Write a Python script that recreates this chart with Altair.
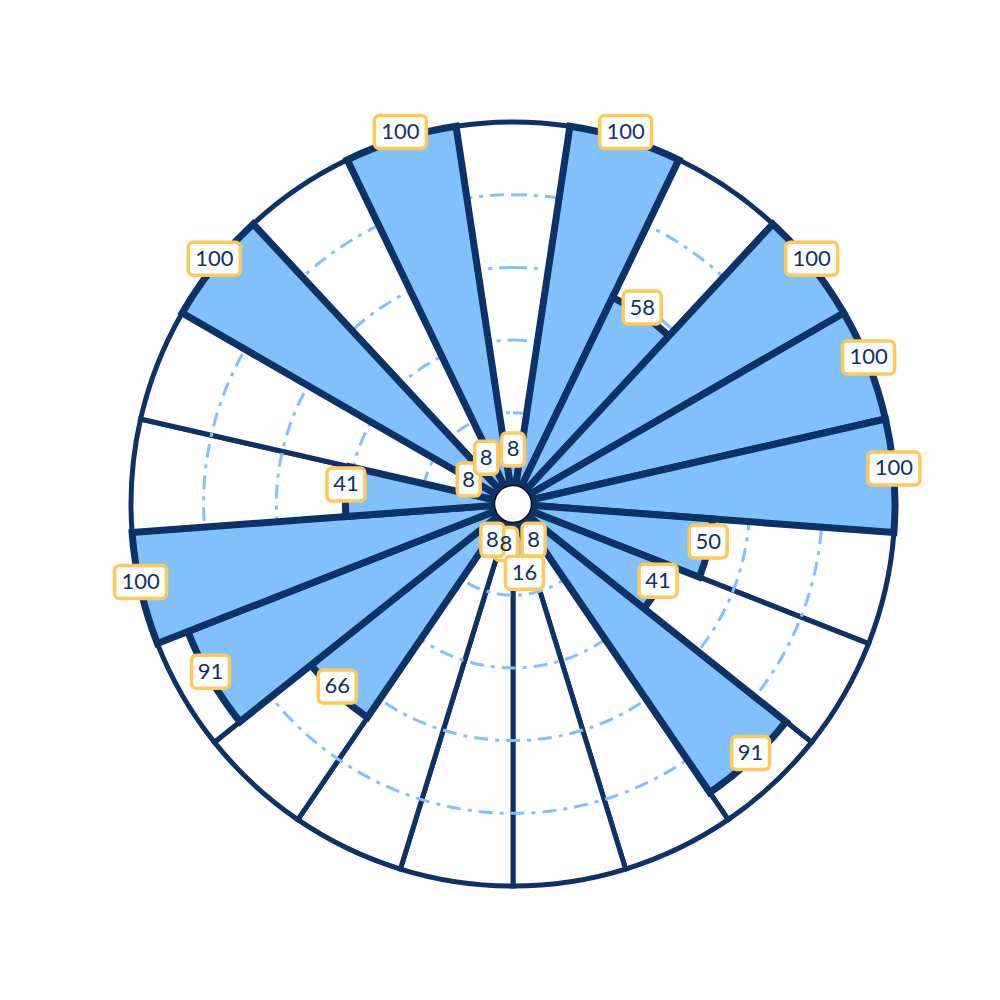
import math
import altair as alt
import pandas as pd

# ---- data (21 sectors, clockwise from the top) ----
values = [8, 100, 58, 100, 100, 100, 50, 41, 91, 8, 16, 8, 8, 66, 91, 100, 41, 8, 100, 8, 100]
sector = list(range(len(values)))
grid_levels = [20, 40, 60, 80]
hub_level = [0]

n = len(values)
NAVY = "#0D3268"
BLUE = "#80C1FC"
GRID = "#80C0FF"
GOLD = "#FFC857"

W = H = 900
R0, R1 = 18.5, 382

df = pd.DataFrame({"i": sector, "value": values})
grid_df = pd.DataFrame({"g": grid_levels})
hub_df = pd.DataFrame({"h": hub_level})

theta_scale = alt.Scale(domain=[0, n])
r_scale = alt.Scale(domain=[0, 100], range=[R0, R1])

base = alt.Chart(df).transform_calculate(start="datum.i - 0.5", end="datum.i + 0.5")

bg = base.mark_arc(fill="white", stroke=NAVY, strokeWidth=5).encode(
    theta=alt.Theta("start:Q", scale=theta_scale, stack=False),
    theta2="end:Q",
    radius=alt.RadiusDatum(100, scale=r_scale),
    radius2=alt.value(0),
)

full_turn = {"t0": "0", "t1": str(n)}

grid = alt.Chart(grid_df).transform_calculate(**full_turn).mark_arc(
    filled=False, stroke=GRID, strokeWidth=3, strokeDash=[14, 7, 4, 7]
).encode(
    theta=alt.Theta("t0:Q", scale=theta_scale, stack=False),
    theta2="t1:Q",
    radius=alt.Radius("g:Q", scale=r_scale),
    radius2=alt.value(0),
)

bars = base.mark_arc(fill=BLUE, stroke=NAVY, strokeWidth=7).encode(
    theta=alt.Theta("start:Q", scale=theta_scale, stack=False),
    theta2="end:Q",
    radius=alt.Radius("value:Q", scale=r_scale),
    radius2=alt.value(0),
)

hub = alt.Chart(hub_df).transform_calculate(**full_turn).mark_arc(
    fill="white", stroke="#111111", strokeWidth=1.5
).encode(
    theta=alt.Theta("t0:Q", scale=theta_scale, stack=False),
    theta2="t1:Q",
    radius=alt.Radius("h:Q", scale=r_scale),
    radius2=alt.value(0),
)

lab = alt.Chart(df).transform_calculate(
    rp=f"{R0} + datum.value * {(R1 - R0) / 100}",
    ang=f"2 * PI * datum.i / {n}",
    px="datum.rp * sin(datum.ang)",
    py="datum.rp * cos(datum.ang)",
    nd="length(toString(datum.value))",
)
xs = alt.Scale(domain=[-W / 2, W / 2])
ys = alt.Scale(domain=[-H / 2, H / 2])

SHIFT = 7
HH = 16.5
half_w = {1: 11.5, 2: 19, 3: 26}
boxes = []
for nd, hw in half_w.items():
    boxes.append(
        lab.transform_filter(f"datum.nd == {nd}").mark_rect(
            fill="white", stroke=GOLD, strokeWidth=3.5, cornerRadius=5,
            xOffset=-hw, x2Offset=hw, yOffset=-HH - SHIFT, y2Offset=HH - SHIFT,
        ).encode(
            x=alt.X("px:Q", scale=xs, axis=None),
            x2="px:Q",
            y=alt.Y("py:Q", scale=ys, axis=None),
            y2="py:Q",
        )
    )

text = lab.mark_text(
    font="Lato", fontSize=22, color=NAVY, align="center", baseline="middle", dy=-SHIFT
).encode(
    x=alt.X("px:Q", scale=xs, axis=None),
    y=alt.Y("py:Q", scale=ys, axis=None),
    text="value:Q",
)

chart = alt.layer(bg, grid, bars, hub, *boxes, text).properties(
    width=W, height=H, padding={"left": 63, "top": 54, "right": 5, "bottom": 5}
).configure_view(strokeWidth=0)

chart.save("out.html", embed_options={"renderer": "svg", "actions": False})
